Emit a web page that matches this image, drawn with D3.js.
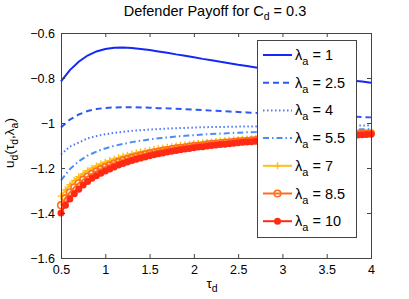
<!DOCTYPE html>
<html>
<head>
<meta charset="utf-8">
<script src="https://cdn.jsdelivr.net/npm/d3@7"></script>
<style>
  body { margin: 0; background: #fff; }
  svg text { font-family: "Liberation Sans", Arial, sans-serif; }
</style>
</head>
<body>
<div id="chart"></div>
<script>
// tau grid for the plain line series (step 0.1)
const tauCoarse = [0.5, 0.6, 0.7, 0.8, 0.9, 1.0, 1.1, 1.2, 1.3, 1.4, 1.5, 1.6, 1.7, 1.8, 1.9, 2.0,
  2.1, 2.2, 2.3, 2.4, 2.5, 2.6, 2.7, 2.8, 2.9, 3.0, 3.1, 3.2, 3.3, 3.4, 3.5, 3.6, 3.7, 3.8, 3.9, 4.0];

// tau grid for the marker series (step 0.05)
const tauFine = [0.5, 0.55, 0.6, 0.65, 0.7, 0.75, 0.8, 0.85, 0.9, 0.95, 1.0, 1.05, 1.1, 1.15, 1.2, 1.25,
  1.3, 1.35, 1.4, 1.45, 1.5, 1.55, 1.6, 1.65, 1.7, 1.75, 1.8, 1.85, 1.9, 1.95, 2.0, 2.05, 2.1, 2.15,
  2.2, 2.25, 2.3, 2.35, 2.4, 2.45, 2.5, 2.55, 2.6, 2.65, 2.7, 2.75, 2.8, 2.85, 2.9, 2.95, 3.0, 3.05,
  3.1, 3.15, 3.2, 3.25, 3.3, 3.35, 3.4, 3.45, 3.5, 3.55, 3.6, 3.65, 3.7, 3.75, 3.8, 3.85, 3.9, 3.95, 4.0];

const lambdas = ["1", "2.5", "4", "5.5", "7", "8.5", "10"];

const u1 = [-0.815, -0.765, -0.728, -0.700, -0.682, -0.671, -0.666, -0.665, -0.667, -0.671, -0.676,
  -0.682, -0.688, -0.695, -0.701, -0.708, -0.715, -0.721, -0.728, -0.734, -0.741, -0.747, -0.753,
  -0.759, -0.765, -0.771, -0.776, -0.782, -0.787, -0.792, -0.797, -0.802, -0.807, -0.812, -0.816, -0.821];

const u25 = [-1.020, -0.985, -0.962, -0.947, -0.938, -0.933, -0.931, -0.930, -0.930, -0.931, -0.932,
  -0.934, -0.935, -0.937, -0.939, -0.941, -0.943, -0.945, -0.947, -0.949, -0.951, -0.953, -0.955,
  -0.957, -0.959, -0.960, -0.962, -0.964, -0.965, -0.967, -0.968, -0.970, -0.971, -0.972, -0.974, -0.975];

const u4 = [-1.140, -1.105, -1.087, -1.068, -1.058, -1.050, -1.044, -1.039, -1.035, -1.032, -1.029,
  -1.027, -1.025, -1.023, -1.022, -1.020, -1.019, -1.018, -1.018, -1.017, -1.016, -1.016, -1.015,
  -1.015, -1.014, -1.014, -1.014, -1.013, -1.013, -1.013, -1.012, -1.012, -1.012, -1.012, -1.011, -1.011];

const u55 = [-1.255, -1.205, -1.170, -1.145, -1.127, -1.113, -1.102, -1.093, -1.085, -1.079, -1.073,
  -1.068, -1.064, -1.060, -1.057, -1.054, -1.051, -1.049, -1.047, -1.045, -1.043, -1.041, -1.040,
  -1.038, -1.037, -1.036, -1.035, -1.034, -1.033, -1.032, -1.031, -1.030, -1.029, -1.029, -1.028, -1.027];

const u7 = [-1.325, -1.297, -1.274, -1.255, -1.239, -1.225, -1.212, -1.201, -1.191, -1.182, -1.174,
  -1.167, -1.160, -1.154, -1.148, -1.143, -1.138, -1.133, -1.129, -1.125, -1.121, -1.117, -1.114,
  -1.111, -1.108, -1.105, -1.102, -1.099, -1.097, -1.094, -1.092, -1.090, -1.088, -1.086, -1.084,
  -1.082, -1.080, -1.079, -1.077, -1.075, -1.074, -1.072, -1.071, -1.070, -1.068, -1.067, -1.066,
  -1.065, -1.063, -1.062, -1.061, -1.060, -1.059, -1.058, -1.057, -1.056, -1.055, -1.054, -1.053,
  -1.052, -1.051, -1.050, -1.049, -1.049, -1.048, -1.047, -1.046, -1.045, -1.045, -1.044, -1.043];

const u85 = [-1.365, -1.334, -1.308, -1.286, -1.268, -1.252, -1.238, -1.226, -1.215, -1.205, -1.196,
  -1.188, -1.180, -1.173, -1.166, -1.160, -1.154, -1.149, -1.144, -1.139, -1.135, -1.131, -1.127,
  -1.123, -1.120, -1.116, -1.113, -1.110, -1.108, -1.105, -1.102, -1.100, -1.098, -1.095, -1.093,
  -1.091, -1.089, -1.087, -1.086, -1.084, -1.082, -1.080, -1.079, -1.077, -1.076, -1.074, -1.073,
  -1.072, -1.070, -1.069, -1.067, -1.066, -1.065, -1.064, -1.063, -1.062, -1.061, -1.059, -1.058,
  -1.057, -1.056, -1.055, -1.054, -1.053, -1.052, -1.051, -1.050, -1.049, -1.048, -1.047, -1.046];

const u10 = [-1.400, -1.366, -1.338, -1.314, -1.294, -1.276, -1.260, -1.246, -1.234, -1.223, -1.213,
  -1.204, -1.195, -1.187, -1.180, -1.173, -1.167, -1.161, -1.156, -1.151, -1.146, -1.141, -1.137,
  -1.133, -1.129, -1.125, -1.122, -1.119, -1.116, -1.113, -1.110, -1.107, -1.105, -1.102, -1.100,
  -1.098, -1.096, -1.094, -1.092, -1.090, -1.088, -1.086, -1.084, -1.083, -1.081, -1.080, -1.078,
  -1.077, -1.075, -1.074, -1.072, -1.071, -1.070, -1.068, -1.067, -1.066, -1.065, -1.063, -1.062,
  -1.061, -1.060, -1.059, -1.058, -1.057, -1.056, -1.055, -1.054, -1.053, -1.052, -1.051, -1.050];

const xTicks = [0.5, 1, 1.5, 2, 2.5, 3, 3.5, 4];
const yTicks = [-0.6, -0.8, -1, -1.2, -1.4, -1.6];

const series = [
  { lam: lambdas[0], tau: tauCoarse, u: u1, color: "#1428f5", dash: null, marker: null },
  { lam: lambdas[1], tau: tauCoarse, u: u25, color: "#2a58f5", dash: "6,4", marker: null },
  { lam: lambdas[2], tau: tauCoarse, u: u4, color: "#5078f5", dash: "1.5,2.5", marker: null },
  { lam: lambdas[3], tau: tauCoarse, u: u55, color: "#4a8cf5", dash: "6,3,1.5,3", marker: null },
  { lam: lambdas[4], tau: tauFine, u: u7, color: "#ffbe14", dash: null, marker: "plus" },
  { lam: lambdas[5], tau: tauFine, u: u85, color: "#ff6e1e", dash: null, marker: "circle" },
  { lam: lambdas[6], tau: tauFine, u: u10, color: "#ff2a14", dash: null, marker: "dot" }
];

const width = 409, height = 299;
const margin = { left: 61, right: 38, top: 33, bottom: 41 };

const svg = d3.select("#chart").append("svg")
  .attr("width", width)
  .attr("height", height);

const x = d3.scaleLinear().domain([0.5, 4]).range([margin.left, width - margin.right]);
const y = d3.scaleLinear().domain([-1.6, -0.6]).range([height - margin.bottom, margin.top]);

const line = d3.line().x(d => x(d[0])).y(d => y(d[1]));

const plot = svg.append("g");

series.forEach(s => {
  const pts = s.tau.map((t, i) => [t, s.u[i]]);
  plot.append("path")
    .attr("d", line(pts))
    .attr("fill", "none")
    .attr("stroke", s.color)
    .attr("stroke-width", 2)
    .attr("stroke-dasharray", s.dash);
  drawMarkers(plot, pts.map(p => [x(p[0]), y(p[1])]), s);
});

function drawMarkers(g, pts, s) {
  if (s.marker === "plus") {
    g.selectAll(null).data(pts).enter().append("path")
      .attr("d", d => `M${d[0] - 3.5},${d[1]}H${d[0] + 3.5}M${d[0]},${d[1] - 3.5}V${d[1] + 3.5}`)
      .attr("stroke", s.color).attr("stroke-width", 1.4).attr("fill", "none");
  } else if (s.marker === "circle") {
    g.selectAll(null).data(pts).enter().append("circle")
      .attr("cx", d => d[0]).attr("cy", d => d[1]).attr("r", 3.3)
      .attr("fill", "none").attr("stroke", s.color).attr("stroke-width", 1.6);
  } else if (s.marker === "dot") {
    g.selectAll(null).data(pts).enter().append("circle")
      .attr("cx", d => d[0]).attr("cy", d => d[1]).attr("r", 3.5)
      .attr("fill", s.color);
  }
}

// axes, MATLAB style box with inward ticks
const axisColor = "#444";
const xAxis = svg.append("g").attr("transform", `translate(0,${y(-1.6)})`)
  .call(d3.axisBottom(x).tickValues(xTicks).tickSize(-4).tickPadding(5).tickFormat(d3.format("")));
const xAxisTop = svg.append("g").attr("transform", `translate(0,${y(-0.6)})`)
  .call(d3.axisTop(x).tickValues(xTicks).tickSize(-4).tickFormat(""));
const yAxis = svg.append("g").attr("transform", `translate(${x(0.5)},0)`)
  .call(d3.axisLeft(y).tickValues(yTicks).tickSize(-4).tickPadding(6)
    .tickFormat(d => d3.format("")(d).replace("-", "\u2212")));
const yAxisRight = svg.append("g").attr("transform", `translate(${x(4)},0)`)
  .call(d3.axisRight(y).tickValues(yTicks).tickSize(-4).tickFormat(""));

[xAxis, xAxisTop, yAxis, yAxisRight].forEach(a => {
  a.select(".domain").attr("stroke", axisColor).attr("stroke-width", 1);
  a.selectAll(".tick line").attr("stroke", axisColor);
  a.selectAll("text").attr("fill", "#000").style("font-size", "12.5px");
});
xAxis.selectAll("text").attr("dy", "0.85em");

// title
const title = svg.append("text")
  .attr("x", 215).attr("y", 16)
  .attr("text-anchor", "middle")
  .style("font-size", "14.5px");
title.append("tspan").text("Defender Payoff for C");
title.append("tspan").attr("dy", 4).style("font-size", "10.5px").text("d");
title.append("tspan").attr("dy", -4).text(" = 0.3");

// x label
const xl = svg.append("text")
  .attr("x", 212).attr("y", 288)
  .attr("text-anchor", "middle")
  .style("font-size", "13.5px");
xl.append("tspan").text("\u03c4");
xl.append("tspan").attr("dy", 4).style("font-size", "10.5px").text("d");

// y label
const yl = svg.append("text")
  .attr("transform", "translate(14,143) rotate(-90)")
  .attr("text-anchor", "middle")
  .style("font-size", "13.5px");
yl.append("tspan").text("u");
yl.append("tspan").attr("dy", 4).style("font-size", "10.5px").text("d");
yl.append("tspan").attr("dy", -4).text("(\u03c4");
yl.append("tspan").attr("dy", 4).style("font-size", "10.5px").text("d");
yl.append("tspan").attr("dy", -4).text(",\u03bb");
yl.append("tspan").attr("dy", 4).style("font-size", "10.5px").text("a");
yl.append("tspan").attr("dy", -4).text(")");

// legend
const legend = svg.append("g");
legend.append("rect")
  .attr("x", 257.5).attr("y", 40.5).attr("width", 99).attr("height", 197)
  .attr("fill", "#fff").attr("stroke", axisColor).attr("stroke-width", 1);

series.forEach((s, i) => {
  const cy = 55 + i * 27.7;
  legend.append("line")
    .attr("x1", 263).attr("x2", 292).attr("y1", cy).attr("y2", cy)
    .attr("stroke", s.color).attr("stroke-width", 2)
    .attr("stroke-dasharray", s.dash);
  drawMarkers(legend, [[277.5, cy]], s);
  const t = legend.append("text")
    .attr("x", 295).attr("y", cy + 5)
    .style("font-size", "14.5px");
  t.append("tspan").text("\u03bb");
  t.append("tspan").attr("dy", 5).style("font-size", "11px").text("a");
  t.append("tspan").attr("dy", -5).text(" = " + s.lam);
});
</script>
</body>
</html>
